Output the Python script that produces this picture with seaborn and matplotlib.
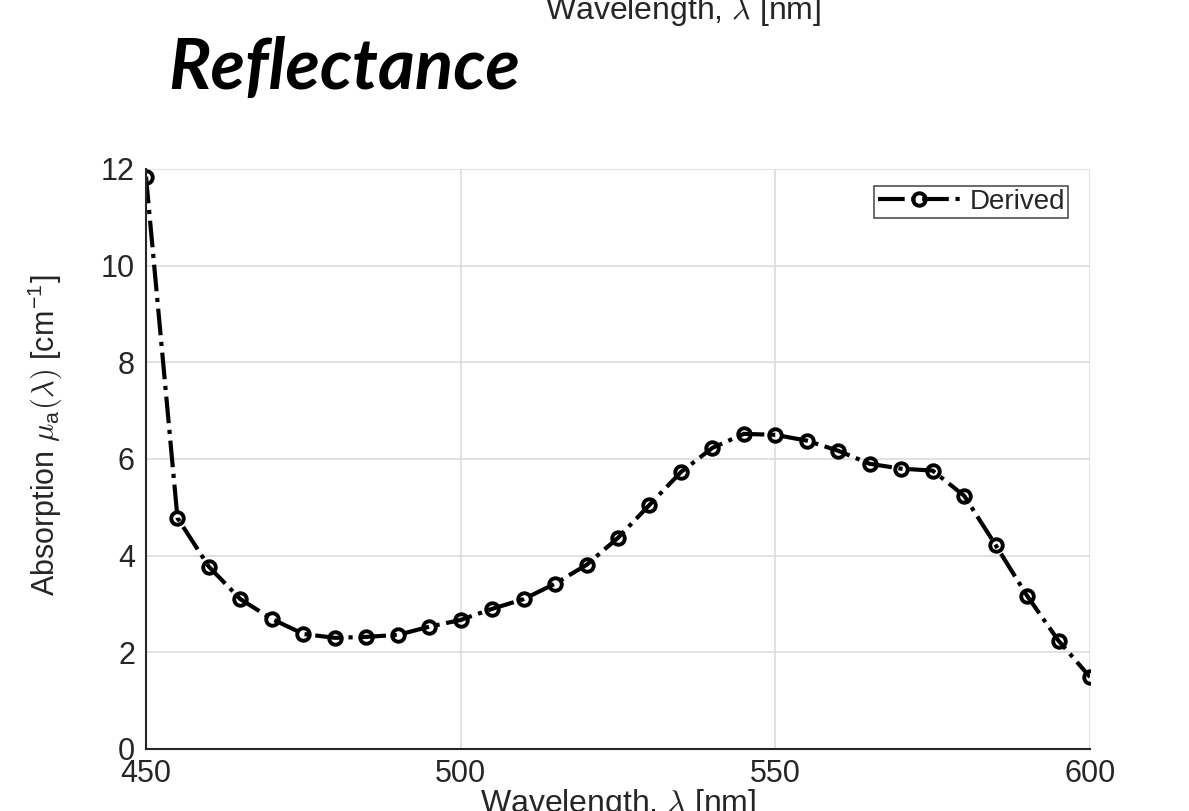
import matplotlib
matplotlib.use("Agg")
import matplotlib.pyplot as plt
import seaborn as sns
import pandas as pd

wavelength = [450, 455, 460, 465, 470, 475, 480, 485, 490, 495, 500, 505, 510,
              515, 520, 525, 530, 535, 540, 545, 550, 555, 560, 565, 570, 575,
              580, 585, 590, 595, 600]
absorption = [11.84, 4.78, 3.77, 3.10, 2.69, 2.38, 2.30, 2.32, 2.36, 2.53, 2.67,
              2.90, 3.10, 3.42, 3.81, 4.37, 5.05, 5.73, 6.23, 6.52, 6.50, 6.38,
              6.17, 5.90, 5.80, 5.76, 5.24, 4.22, 3.17, 2.24, 1.49]
series_name = "Derived"
x_ticks = [450, 500, 550, 600]
y_ticks = [0, 2, 4, 6, 8, 10, 12]

df = pd.DataFrame({"wavelength": wavelength, "absorption": absorption,
                   "series": series_name})

sns.set_theme(style="white")
plt.rcParams["font.family"] = ["Liberation Sans", "DejaVu Sans"]
plt.rcParams["mathtext.fontset"] = "cm"

fig = plt.figure(figsize=(11.89, 8.11), dpi=100)
ax = fig.add_axes([146 / 1189, 1 - 749 / 811, (1090 - 146) / 1189, (749 - 169) / 811])

sns.lineplot(data=df, x="wavelength", y="absorption", hue="series",
             palette=["black"], ax=ax, linestyle="-.", linewidth=3,
             marker="o", markersize=9, markerfacecolor="none",
             markeredgecolor="black", markeredgewidth=2.8)

ax.set_xlim(450, 600)
ax.set_ylim(0, 12)
ax.set_xticks(x_ticks)
ax.set_yticks(y_ticks)
ax.grid(True, color="#dcdcdc", linewidth=1.2)
for s in ["top", "right"]:
    ax.spines[s].set_visible(False)
for s in ["left", "bottom"]:
    ax.spines[s].set_color("#262626")
    ax.spines[s].set_linewidth(1.5)
ax.tick_params(axis="both", direction="in", length=8, width=1.5,
               color="#262626", labelsize=22, labelcolor="#262626")
ax.tick_params(axis="x", pad=7)
ax.tick_params(axis="y", pad=8)

ax.set_xlabel(r"Wavelength, $\lambda$ [nm]", fontsize=23, color="#262626",
              labelpad=-1)
ax.set_ylabel(r"Absorption $\mu_\mathregular{a}(\lambda)$ [cm$^\mathregular{-1}$]",
              fontsize=22, color="#262626")
ax.yaxis.set_label_coords(-0.087, 0.541)

leg = ax.legend(loc="upper right", bbox_to_anchor=(0.977, 0.971), fontsize=20,
                frameon=True, fancybox=False, handlelength=3.0,
                borderpad=0.12, handletextpad=0.3, borderaxespad=0)
leg.get_frame().set_edgecolor("#262626")
leg.get_frame().set_linewidth(1.2)

fig.text(683 / 1189, 1 - 19 / 811, r"Wavelength, $\lambda$ [nm]", fontsize=23,
         color="#262626", ha="center", va="baseline")
fig.text(168 / 1189, 1 - 89 / 811, "Reflectance", fontsize=51,
         family=["Lato", "DejaVu Sans"], fontweight="bold", fontstyle="italic",
         color="black", ha="left", va="baseline")

fig.savefig("out.png", dpi=100)
